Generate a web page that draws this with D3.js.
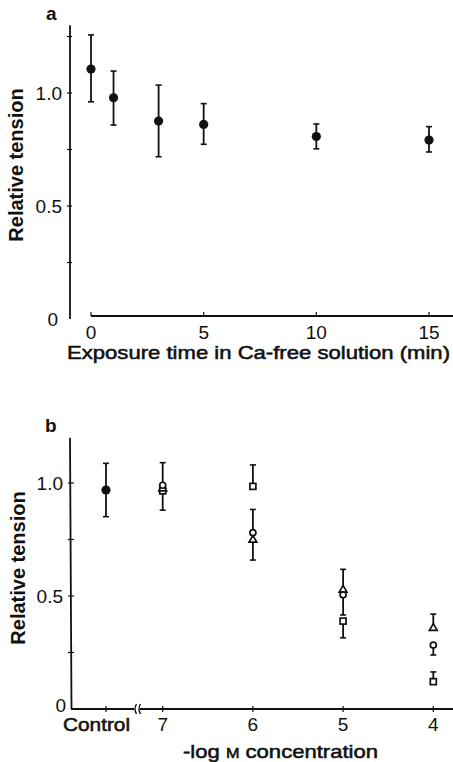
<!DOCTYPE html>
<html>
<head>
<meta charset="utf-8">
<script src="https://cdn.jsdelivr.net/npm/d3@7"></script>
<style>
  body { margin: 0; background: #fff; }
  svg text { font-family: "Liberation Sans", Arial, sans-serif; fill: #111; }
  .medium { stroke: #111; stroke-width: 0.55px; }
</style>
</head>
<body>
<div id="chart"></div>
<script>
// panel a : time in Ca-free solution
var timeMin  = [0, 1, 3, 5, 10, 15];
var tensionA = [1.106, 0.979, 0.876, 0.861, 0.807, 0.792];
var errHiA   = [1.257, 1.097, 1.035, 0.953, 0.863, 0.851];
var errLoA   = [0.961, 0.858, 0.718, 0.773, 0.753, 0.739];
var xTicksA  = [0, 5, 10, 15];

// panel b : -log M concentration
var controlMean = 0.969, controlHi = 1.087, controlLo = 0.851;
var logConc = [7, 6, 5, 4];
var circleB   = [0.990, 0.780, 0.505, 0.283];
var circleHi  = [1.090, 0.883, null, null];
var circleLo  = [null, null, 0.416, 0.239];
var squareB   = [0.965, 0.985, 0.389, 0.121];
var squareHi  = [null, 1.080, null, 0.164];
var squareLo  = [0.880, null, 0.315, null];
var triangleB = [0.975, 0.748, 0.527, 0.358];
var triangleHi = [null, null, 0.618, 0.420];
var triangleLo = [null, 0.659, null, null];
var yTicks = [0, 0.25, 0.5, 0.75, 1.0, 1.25];
var yLabels = {"0": "0", "0.5": "0.5", "1": "1.0"};

var svg = d3.select("#chart").append("svg")
  .attr("width", 453).attr("height", 762);

var ink = "#111";

// ---------- panel a ----------
var xA = d3.scaleLinear().domain([0, 15]).range([91, 429]);
var yA = d3.scaleLinear().domain([0, 1]).range([319, 93]);

var gA = svg.append("g");

// y axis
gA.append("line")
  .attr("x1", 70).attr("x2", 70)
  .attr("y1", yA(0)).attr("y2", yA(1.3))
  .style("stroke", ink).style("stroke-width", 1.8);
gA.selectAll(".ytickA").data(yTicks.filter(function(d){ return d > 0; }))
  .enter().append("line")
  .attr("x1", 67).attr("x2", 72)
  .attr("y1", function(d){ return yA(d); })
  .attr("y2", function(d){ return yA(d); })
  .style("stroke", ink).style("stroke-width", 1.2);
gA.selectAll(".ylabA").data([0, 0.5, 1])
  .enter().append("text")
  .attr("x", function(d){ return d == 0 ? 58 : 62; })
  .attr("y", function(d){ return yA(d) + 7; })
  .attr("text-anchor", "end")
  .style("font-size", "19px")
  .text(function(d){ return yLabels[String(d)]; });

// x axis (detached from y axis)
gA.append("line")
  .attr("x1", xA(0)).attr("x2", xA(16.1))
  .attr("y1", 316).attr("y2", 316)
  .style("stroke", ink).style("stroke-width", 1.8);
gA.selectAll(".xtickA").data(xTicksA)
  .enter().append("line")
  .attr("x1", function(d){ return xA(d); })
  .attr("x2", function(d){ return xA(d); })
  .attr("y1", 312).attr("y2", 316)
  .style("stroke", ink).style("stroke-width", 1.2);
gA.selectAll(".xlabA").data(xTicksA)
  .enter().append("text")
  .attr("x", function(d){ return xA(d); })
  .attr("y", 339)
  .attr("text-anchor", "middle")
  .style("font-size", "19px")
  .text(function(d){ return d; });

// error bars + dots
timeMin.forEach(function(t, i){
  var x = xA(t);
  gA.append("line")
    .attr("x1", x).attr("x2", x)
    .attr("y1", yA(errLoA[i])).attr("y2", yA(errHiA[i]))
    .style("stroke", ink).style("stroke-width", 1.8);
  [errLoA[i], errHiA[i]].forEach(function(v){
    gA.append("line")
      .attr("x1", x - 3).attr("x2", x + 3)
      .attr("y1", yA(v)).attr("y2", yA(v))
      .style("stroke", ink).style("stroke-width", 1.6);
  });
  gA.append("circle")
    .attr("cx", x).attr("cy", yA(tensionA[i]))
    .attr("r", 4.6).style("fill", ink);
});

gA.append("text").attr("x", 46).attr("y", 20)
  .style("font-size", "19px").style("font-weight", "bold").text("a");
gA.append("text")
  .attr("transform", "translate(23,165) rotate(-90)")
  .attr("text-anchor", "middle")
  .style("font-size", "20px").style("font-weight", "bold")
  .text("Relative tension");
gA.append("text")
  .attr("class", "medium")
  .attr("x", 67).attr("y", 359)
  .attr("textLength", 383).attr("lengthAdjust", "spacingAndGlyphs")
  .style("font-size", "19px")
  .text("Exposure time in Ca-free solution (min)");

// ---------- panel b ----------
var xB = d3.scaleLinear().domain([7, 4]).range([162.7, 433.3]);
var xControl = 106;
var yB = d3.scaleLinear().domain([0, 1]).range([709, 483]);

var gB = svg.append("g");

gB.append("line")
  .attr("x1", 70).attr("x2", 71.5)
  .attr("y1", yB(1.2)).attr("y2", yB(0))
  .style("stroke", ink).style("stroke-width", 1.8);
gB.selectAll(".ytickB").data(yTicks.filter(function(d){ return d > 0 && d < 1.2; }))
  .enter().append("line")
  .attr("x1", 68).attr("x2", 74)
  .attr("y1", function(d){ return yB(d); })
  .attr("y2", function(d){ return yB(d); })
  .style("stroke", ink).style("stroke-width", 1.2);
gB.selectAll(".ylabB").data([0, 0.5, 1])
  .enter().append("text")
  .attr("x", function(d){ return d == 0 ? 66 : 63; })
  .attr("y", function(d){ return yB(d) + (d == 0 ? 3 : 7); })
  .attr("text-anchor", "end")
  .style("font-size", "19px")
  .text(function(d){ return yLabels[String(d)]; });

// x axis with break
gB.append("line")
  .attr("x1", 71).attr("x2", 134)
  .attr("y1", 709).attr("y2", 709)
  .style("stroke", ink).style("stroke-width", 1.8);
gB.append("line")
  .attr("x1", 140).attr("x2", 453)
  .attr("y1", 709).attr("y2", 709)
  .style("stroke", ink).style("stroke-width", 1.8);
[135, 139].forEach(function(bx){
  gB.append("path")
    .attr("d", "M" + (bx + 1.5) + ",704 Q" + (bx - 1.5) + ",709 " + (bx + 1.5) + ",714")
    .style("fill", "none").style("stroke", ink).style("stroke-width", 1.4);
});
var xTickPos = [xControl].concat(logConc.map(function(d){ return xB(d); }));
gB.selectAll(".xtickB").data(xTickPos)
  .enter().append("line")
  .attr("x1", function(d){ return d; }).attr("x2", function(d){ return d; })
  .attr("y1", 706).attr("y2", 712)
  .style("stroke", ink).style("stroke-width", 1.2);
gB.append("text")
  .attr("class", "medium")
  .attr("x", 63).attr("y", 731)
  .attr("textLength", 67).attr("lengthAdjust", "spacingAndGlyphs")
  .style("font-size", "19px")
  .text("Control");
gB.selectAll(".xlabB").data(logConc)
  .enter().append("text")
  .attr("x", function(d){ return xB(d); })
  .attr("y", 731)
  .attr("text-anchor", "middle")
  .style("font-size", "19px")
  .text(function(d){ return d; });

function bar(x, from, to, cap){
  gB.append("line")
    .attr("x1", x).attr("x2", x)
    .attr("y1", yB(from)).attr("y2", yB(to))
    .style("stroke", ink).style("stroke-width", 1.8);
  if (cap) {
    gB.append("line")
      .attr("x1", x - 3).attr("x2", x + 3)
      .attr("y1", yB(to)).attr("y2", yB(to))
      .style("stroke", ink).style("stroke-width", 1.6);
  }
}

// control
bar(xControl, controlMean, controlHi, true);
bar(xControl, controlMean, controlLo, true);
gB.append("circle").attr("cx", xControl).attr("cy", yB(controlMean))
  .attr("r", 4.6).style("fill", ink);

var series = [
  {vals: squareB, hi: squareHi, lo: squareLo, shape: "square"},
  {vals: triangleB, hi: triangleHi, lo: triangleLo, shape: "triangle"},
  {vals: circleB, hi: circleHi, lo: circleLo, shape: "circle"}
];

series.forEach(function(s){
  logConc.forEach(function(c, i){
    var x = xB(c);
    if (s.hi[i] != null) bar(x, s.vals[i], s.hi[i], true);
    if (s.lo[i] != null) bar(x, s.vals[i], s.lo[i], true);
  });
});

series.forEach(function(s){
  logConc.forEach(function(c, i){
    var x = xB(c), y = yB(s.vals[i]);
    if (s.shape == "square") {
      gB.append("rect").attr("x", x - 3).attr("y", y - 3)
        .attr("width", 6).attr("height", 6)
        .style("fill", "#fff").style("stroke", ink).style("stroke-width", 1.7);
    } else if (s.shape == "triangle") {
      gB.append("path")
        .attr("d", d3.symbol().type(d3.symbolTriangle).size(26)())
        .attr("transform", "translate(" + x + "," + y + ")")
        .style("fill", "#fff").style("stroke", ink).style("stroke-width", 1.7);
    } else {
      gB.append("circle").attr("cx", x).attr("cy", y).attr("r", 3)
        .style("fill", "#fff").style("stroke", ink).style("stroke-width", 1.7);
    }
  });
});

gB.append("text").attr("x", 45).attr("y", 432)
  .style("font-size", "19px").style("font-weight", "bold").text("b");
gB.append("text")
  .attr("transform", "translate(25,568) rotate(-90)")
  .attr("text-anchor", "middle")
  .style("font-size", "20px").style("font-weight", "bold")
  .text("Relative tension");
var t = gB.append("text")
  .attr("class", "medium")
  .attr("x", 183).attr("y", 758)
  .attr("textLength", 195).attr("lengthAdjust", "spacingAndGlyphs")
  .style("font-size", "19px");
t.append("tspan").text("-log ");
t.append("tspan").style("font-size", "14px").text("M");
t.append("tspan").text(" concentration");
</script>
</body>
</html>
